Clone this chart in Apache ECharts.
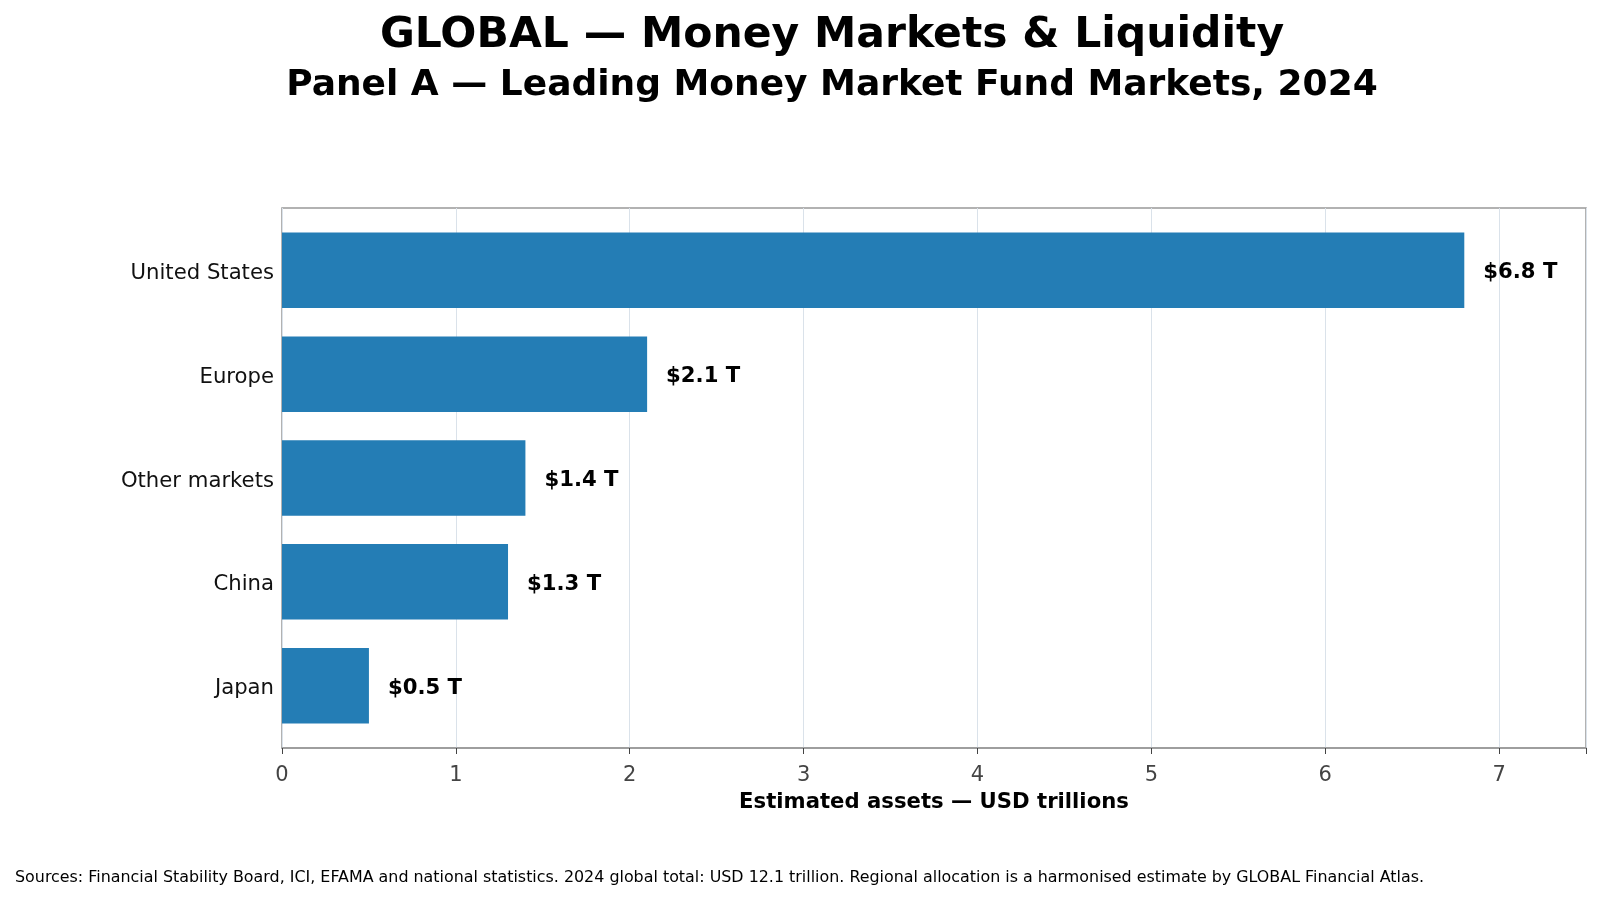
<!DOCTYPE html>
<html>
<head>
<meta charset="utf-8">
<script src="https://cdn.jsdelivr.net/npm/echarts@6/dist/echarts.min.js"></script>
<style>
  html, body { margin: 0; padding: 0; background: #fff; }
  #chart { width: 1600px; height: 901px; }
</style>
</head>
<body>
<div id="chart"></div>
<script>
// data (top bar first)
const markets = ['United States', 'Europe', 'Other markets', 'China', 'Japan'];
const assets = [6.8, 2.1, 1.4, 1.3, 0.5];
const xTicks = [0, 1, 2, 3, 4, 5, 6, 7];

const font = '"DejaVu Sans", sans-serif';
const chart = echarts.init(document.getElementById('chart'));

// frame grid spans y -0.6..4.6, bar grid covers the 5 category bands inside it
const plotLeft = 282, plotW = 1304, plotTop = 208, plotH = 540, band = plotH / 5.2;

chart.setOption({
  animation: false,
  textStyle: { fontFamily: font },
  title: [
    {
      text: 'GLOBAL — Money Markets & Liquidity',
      left: 832, top: 14.5, textAlign: 'center', padding: 0,
      textStyle: { fontFamily: font, fontSize: 42.5, fontWeight: 'bold', color: '#000' }
    },
    {
      text: 'Panel A — Leading Money Market Fund Markets, 2024',
      left: 832, top: 67.5, textAlign: 'center', padding: 0,
      textStyle: { fontFamily: font, fontSize: 36, fontWeight: 'bold', color: '#000' }
    },
    {
      text: 'Sources: Financial Stability Board, ICI, EFAMA and national statistics. 2024 global total: USD 12.1 trillion. Regional allocation is a harmonised estimate by GLOBAL Financial Atlas.',
      left: 15, top: 870, padding: 0,
      textStyle: { fontFamily: font, fontSize: 15.9, fontWeight: 'normal', color: '#000' }
    }
  ],
  grid: [
    {
      left: plotLeft, top: plotTop, width: plotW, height: plotH,
      show: true, borderColor: '#999', borderWidth: 1.5, backgroundColor: 'transparent'
    },
    {
      left: plotLeft, top: plotTop + band * 0.1, width: plotW, height: band * 5
    }
  ],
  xAxis: [
    {
      gridIndex: 0, type: 'value', min: 0, max: 7.5, interval: 1,
      name: 'Estimated assets — USD trillions',
      nameLocation: 'middle', nameGap: 44,
      nameTextStyle: { fontFamily: font, fontSize: 21.2, fontWeight: 'bold', color: '#000' },
      axisLine: { show: true, lineStyle: { color: '#999', width: 1.5 } },
      axisTick: { show: true, length: 6, lineStyle: { color: '#444' } },
      axisLabel: {
        fontFamily: font, fontSize: 21, color: '#444', margin: 17.5,
        formatter: v => (xTicks.includes(v) ? String(v) : '')
      },
      splitLine: { show: true, lineStyle: { color: '#dae2ea', width: 1 } }
    },
    {
      gridIndex: 1, type: 'value', min: 0, max: 7.5, show: false
    }
  ],
  yAxis: [
    {
      gridIndex: 0, type: 'value', min: 0, max: 1, show: false
    },
    {
      gridIndex: 1, type: 'category', data: markets, inverse: true,
      axisLine: { show: false },
      axisTick: { show: false },
      axisLabel: {
        margin: 8,
        formatter: '{n|{value}}',
        rich: { n: { fontFamily: font, fontSize: 21.2, color: '#111', padding: [6, 0, 0, 0] } }
      },
      splitLine: { show: false }
    }
  ],
  series: [{
    type: 'bar',
    xAxisIndex: 1, yAxisIndex: 1,
    data: assets,
    barWidth: 75.5,
    itemStyle: { color: '#247db5' },
    label: {
      show: true, position: 'right', distance: 19, offset: [0, 2.5],
      fontFamily: font, fontSize: 21.2, fontWeight: 'bold', color: '#000',
      formatter: p => '$' + p.value.toFixed(1) + ' T'
    }
  }]
});
</script>
</body>
</html>
